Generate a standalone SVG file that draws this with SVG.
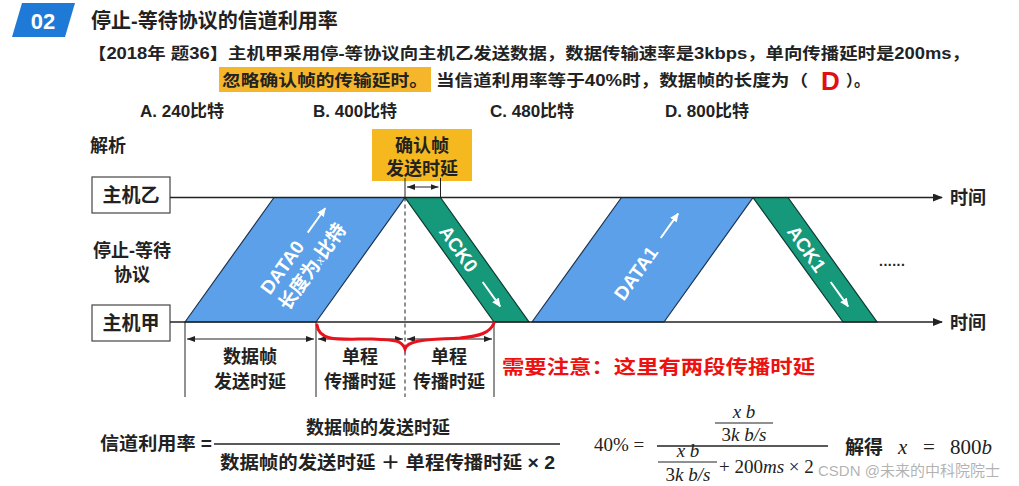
<svg xmlns="http://www.w3.org/2000/svg" width="1019" height="486" viewBox="0 0 1019 486">
<defs>
<style>
.t{font-family:"Liberation Sans","Noto Sans CJK SC",sans-serif;font-weight:bold;fill:#222}
.w{font-family:"Liberation Sans","Noto Sans CJK SC",sans-serif;font-weight:bold;fill:#fff}
.m{font-family:"Liberation Serif","DejaVu Serif",serif;fill:#222}
.ax{stroke:#222;stroke-width:1.5;fill:none}
.thin{stroke:#222;stroke-width:1;fill:none}
.data{fill:#5ba0e8;stroke:#1d3350;stroke-width:1.2}
.ack{fill:#16987a;stroke:#0d3a30;stroke-width:1.2}
.box{fill:#fff;stroke:#444;stroke-width:1.2}
</style>
<marker id="ah" markerWidth="10" markerHeight="8" refX="9" refY="4" orient="auto" markerUnits="userSpaceOnUse"><path d="M0,0 L10,4 L0,8 z" fill="#222"/></marker>
<marker id="dh" markerWidth="8" markerHeight="6" refX="8" refY="3" orient="auto-start-reverse" markerUnits="userSpaceOnUse"><path d="M0,0 L8,3 L0,6 z" fill="#222"/></marker>
<marker id="wh" markerWidth="9" markerHeight="8" refX="8" refY="4" orient="auto" markerUnits="userSpaceOnUse"><path d="M0,0 L9,4 L0,8 z" fill="#fff"/></marker>
</defs>
<rect width="1019" height="486" fill="#fff"/>

<g id="header">
<polygon points="22,3 75,3 65,37 12,37" fill="#1e7ad6"/>
<text x="43" y="29" class="w" font-size="22" text-anchor="middle">02</text>
<text x="91" y="28" class="t" font-size="20">停止-等待协议的信道利用率</text>
<text x="88" y="59" class="t" font-size="16" textLength="882" lengthAdjust="spacingAndGlyphs">【2018年 题36】主机甲采用停-等协议向主机乙发送数据，数据传输速率是3kbps，单向传播延时是200ms，</text>
<rect x="219" y="67" width="212" height="25" fill="#f6b62c"/>
<text x="222" y="86" class="t" font-size="16" textLength="206" lengthAdjust="spacingAndGlyphs">忽略确认帧的传输延时。</text>
<text x="436" y="86" class="t" font-size="16" textLength="372" lengthAdjust="spacingAndGlyphs">当信道利用率等于40%时，数据帧的长度为（</text>
<text x="821" y="90" font-family="Liberation Sans,sans-serif" font-weight="bold" font-size="26" fill="#e01010">D</text>
<text x="846" y="86" class="t" font-size="16">）。</text>
<text x="140" y="117" class="t" font-size="17">A. 240比特</text>
<text x="313" y="117" class="t" font-size="17">B. 400比特</text>
<text x="490" y="117" class="t" font-size="17">C. 480比特</text>
<text x="665" y="117" class="t" font-size="17">D. 800比特</text>
<text x="90" y="152" class="t" font-size="18">解析</text>
</g>

<g id="node-ack-delay">
<rect x="372" y="129" width="100" height="52" fill="#f6b81f"/>
<text x="422" y="152" class="t" font-size="18" text-anchor="middle">确认帧</text>
<text x="422" y="175" class="t" font-size="18" text-anchor="middle">发送时延</text>
</g>

<g id="node-hostB">
<rect x="92" y="177" width="78" height="36" class="box"/>
<text x="131" y="202" class="t" font-size="19" text-anchor="middle">主机乙</text>
</g>
<g id="node-hostA">
<rect x="92" y="305" width="78" height="36" class="box"/>
<text x="131" y="330" class="t" font-size="19" text-anchor="middle">主机甲</text>
</g>
<g id="label-protocol">
<text x="132" y="257" class="t" font-size="18" text-anchor="middle">停止-等待</text>
<text x="132" y="281" class="t" font-size="18" text-anchor="middle">协议</text>
</g>

<g id="node-data0">
<polygon points="185,322 274,197.5 405,197.5 316,322" class="data"/>
<g transform="translate(303,260) rotate(-54.5)">
<text x="-18" y="-6" class="w" font-size="19" text-anchor="middle">DATA0</text>
<line x1="25" y1="-12" x2="55" y2="-12" stroke="#fff" stroke-width="2" marker-end="url(#wh)"/>
<text x="0" y="18" class="w" font-size="19" text-anchor="middle">长度为<tspan font-family="Liberation Serif,serif" font-style="italic" font-weight="normal" font-size="14">x</tspan>比特</text>
</g>
</g>
<g id="node-ack0">
<polygon points="405,197.5 440.5,197.5 529,322 494,322" class="ack"/>
<g transform="translate(467,260) rotate(54.5)">
<text x="-14" y="7" class="w" font-size="19" text-anchor="middle">ACK0</text>
<line x1="27" y1="0" x2="57" y2="0" stroke="#fff" stroke-width="2" marker-end="url(#wh)"/>
</g>
</g>
<g id="node-data1">
<polygon points="532,322 621.5,197.5 753,197.5 664,322" class="data"/>
<g transform="translate(645,260) rotate(-54.5)">
<text x="-16" y="7" class="w" font-size="19" text-anchor="middle">DATA1</text>
<line x1="27" y1="0" x2="57" y2="0" stroke="#fff" stroke-width="2" marker-end="url(#wh)"/>
</g>
</g>
<g id="node-ack1">
<polygon points="753,197.5 788,197.5 877,322 843,322" class="ack"/>
<g transform="translate(815,260) rotate(54.5)">
<text x="-14" y="7" class="w" font-size="19" text-anchor="middle">ACK1</text>
<line x1="27" y1="0" x2="57" y2="0" stroke="#fff" stroke-width="2" marker-end="url(#wh)"/>
</g>
<text x="879" y="266" class="t" font-size="14" letter-spacing="0.5">......</text>
</g>

<g id="connectors">
<line x1="170" y1="197.5" x2="942" y2="197.5" class="ax" marker-end="url(#ah)"/>
<line x1="170" y1="322" x2="942" y2="322" class="ax" marker-end="url(#ah)"/>
<line x1="405" y1="178" x2="405" y2="197.5" class="thin"/>
<line x1="440.5" y1="178" x2="440.5" y2="197.5" class="thin"/>
<line x1="407" y1="187" x2="438.5" y2="187" class="thin" marker-start="url(#dh)" marker-end="url(#dh)"/>
<line x1="405" y1="197.5" x2="405" y2="397" class="thin" stroke-dasharray="4,3"/>
<line x1="185" y1="322" x2="185" y2="397" class="thin"/>
<line x1="316" y1="322" x2="316" y2="397" class="thin"/>
<line x1="494" y1="322" x2="494" y2="397" class="thin"/>
<line x1="187" y1="339" x2="314" y2="339" class="thin" marker-start="url(#dh)" marker-end="url(#dh)"/>
<line x1="318" y1="339" x2="403" y2="339" class="thin" marker-start="url(#dh)" marker-end="url(#dh)"/>
<line x1="407" y1="339" x2="492" y2="339" class="thin" marker-start="url(#dh)" marker-end="url(#dh)"/>
<path d="M317,325 C319,342 340,339 370,339 C395,340 402,340 405,349 C408,339 430,340 460,338 C480,336 490,333 494,323" fill="none" stroke="#e8121c" stroke-width="3" stroke-linecap="round"/>
</g>

<g id="labels-time">
<text x="950" y="204" class="t" font-size="18">时间</text>
<text x="950" y="329" class="t" font-size="18">时间</text>
</g>

<g id="labels-dims">
<text x="250" y="363" class="t" font-size="18" text-anchor="middle">数据帧</text>
<text x="250" y="388" class="t" font-size="18" text-anchor="middle">发送时延</text>
<text x="360" y="363" class="t" font-size="18" text-anchor="middle">单程</text>
<text x="360" y="388" class="t" font-size="18" text-anchor="middle">传播时延</text>
<text x="449" y="363" class="t" font-size="18" text-anchor="middle">单程</text>
<text x="449" y="388" class="t" font-size="18" text-anchor="middle">传播时延</text>
<text x="502" y="374" font-family="Liberation Sans,'Noto Sans CJK SC',sans-serif" font-weight="bold" font-size="19" fill="#ee1111" textLength="313" lengthAdjust="spacingAndGlyphs">需要注意：这里有两段传播时延</text>
</g>

<g id="formula">
<text x="100" y="450" class="t" font-size="18" textLength="112" lengthAdjust="spacingAndGlyphs">信道利用率 =</text>
<line x1="214" y1="444" x2="560" y2="444" stroke="#222" stroke-width="1.5"/>
<text x="378" y="434" class="t" font-size="18" text-anchor="middle">数据帧的发送时延</text>
<text x="220" y="469" class="t" font-size="18" textLength="335" lengthAdjust="spacingAndGlyphs">数据帧的发送时延 ＋ 单程传播时延 × 2</text>
</g>

<g id="math">
<text x="594" y="451" class="m" font-size="19">40% =</text>
<line x1="657" y1="446" x2="828" y2="446" stroke="#222" stroke-width="1.3"/>
<text x="744" y="418" class="m" font-size="19" text-anchor="middle" font-style="italic">x b</text>
<line x1="715" y1="423" x2="773" y2="423" stroke="#222" stroke-width="1.2"/>
<text x="744" y="441" class="m" font-size="19" text-anchor="middle">3<tspan font-style="italic">k b/s</tspan></text>
<text x="688" y="457" class="m" font-size="19" text-anchor="middle" font-style="italic">x b</text>
<line x1="658" y1="462" x2="717" y2="462" stroke="#222" stroke-width="1.2"/>
<text x="688" y="481" class="m" font-size="19" text-anchor="middle">3<tspan font-style="italic">k b/s</tspan></text>
<text x="719" y="473" class="m" font-size="19">+ 200<tspan font-style="italic">ms</tspan> × 2</text>
<text x="845" y="454" class="t" font-size="19">解得</text>
<text x="898" y="454" class="m" font-size="21"><tspan font-style="italic">x</tspan><tspan x="923">=</tspan><tspan x="950">800</tspan><tspan font-style="italic">b</tspan></text>
<text x="818" y="476" font-family="Liberation Sans,'Noto Sans CJK SC',sans-serif" font-size="15" fill="#999" fill-opacity="0.75">CSDN @未来的中科院院士</text>
</g>
</svg>
